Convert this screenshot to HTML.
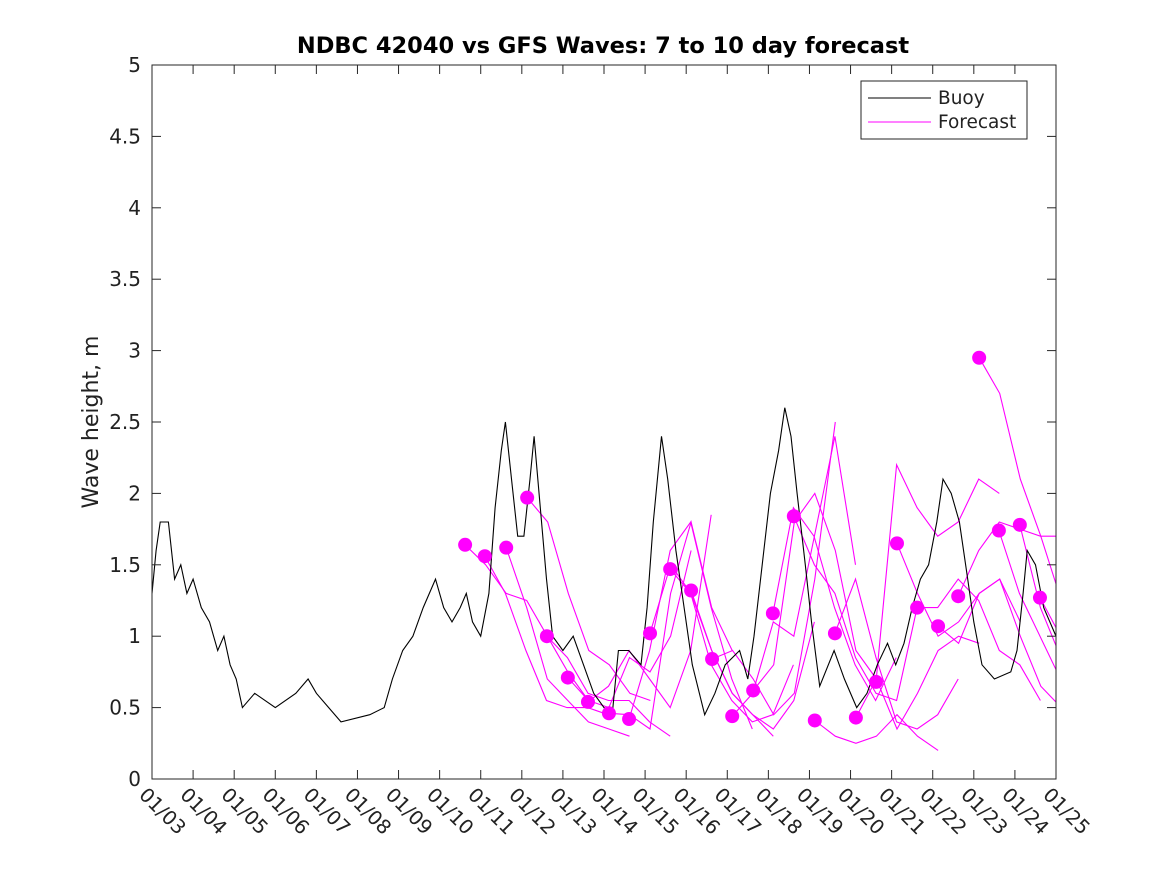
<!DOCTYPE html>
<html><head><meta charset="utf-8"><style>
body{margin:0;background:#fff;}
svg{display:block;font-family:"DejaVu Sans","Liberation Sans",sans-serif;}
</style></head><body>
<svg id="chart" width="1167" height="875" viewBox="0 0 1167 875">
<rect width="1167" height="875" fill="#fff"/>
<text x="603" y="53" text-anchor="middle" font-size="22.5" font-weight="bold" fill="#000">NDBC 42040 vs GFS Waves: 7 to 10 day forecast</text>
<text transform="translate(98,422) rotate(-90)" text-anchor="middle" font-size="22" fill="#222">Wave height, m</text>
<defs><clipPath id="pc"><rect x="152" y="65" width="904" height="714"/></clipPath></defs>
<g id="series" clip-path="url(#pc)"></g>
<g id="dots"></g>
<rect x="152" y="65" width="904" height="714" fill="none" stroke="#262626" stroke-width="1"/>
<g id="axes"></g>
<g>
<rect x="861" y="81" width="166" height="58" fill="#fff" stroke="#262626"/>
<line x1="868" y1="98" x2="931" y2="98" stroke="#000"/>
<text x="938" y="104" font-size="18.5" fill="#222">Buoy</text>
<line x1="868" y1="122" x2="931" y2="122" stroke="#f0f"/>
<text x="938" y="128" font-size="18.5" fill="#222">Forecast</text>
</g>
</svg>
<script>
const xLabels=["01/03","01/04","01/05","01/06","01/07","01/08","01/09","01/10","01/11","01/12","01/13","01/14","01/15","01/16","01/17","01/18","01/19","01/20","01/21","01/22","01/23","01/24","01/25"];
const yTicks=[0,0.5,1,1.5,2,2.5,3,3.5,4,4.5,5];
const yTickLabels=["0","0.5","1","1.5","2","2.5","3","3.5","4","4.5","5"];
const buoyDays=[0,0.1,0.2,0.4,0.55,0.7,0.85,1,1.2,1.4,1.6,1.75,1.9,2.05,2.2,2.5,3,3.5,3.8,4,4.3,4.6,5.3,5.65,5.85,6.1,6.35,6.6,6.9,7.1,7.3,7.5,7.65,7.8,8.0,8.2,8.35,8.5,8.6,8.75,8.9,9.05,9.2,9.3,9.45,9.6,9.75,10,10.25,10.5,10.75,11,11.2,11.35,11.6,11.9,12.05,12.2,12.4,12.55,12.75,12.95,13.15,13.45,13.7,13.95,14.3,14.5,14.65,14.85,15.05,15.25,15.4,15.55,15.7,15.9,16.05,16.25,16.6,16.85,17.15,17.4,17.65,17.9,18.1,18.3,18.5,18.7,18.9,19.1,19.25,19.45,19.65,19.85,20.0,20.2,20.5,20.9,21.05,21.2,21.3,21.5,21.7,22];
const buoyVals=[1.3,1.6,1.8,1.8,1.4,1.5,1.3,1.4,1.2,1.1,0.9,1.0,0.8,0.7,0.5,0.6,0.5,0.6,0.7,0.6,0.5,0.4,0.45,0.5,0.7,0.9,1.0,1.2,1.4,1.2,1.1,1.2,1.3,1.1,1.0,1.3,1.9,2.3,2.5,2.1,1.7,1.7,2.1,2.4,1.9,1.4,1.0,0.9,1.0,0.8,0.6,0.5,0.45,0.9,0.9,0.8,1.2,1.8,2.4,2.1,1.6,1.2,0.8,0.45,0.6,0.8,0.9,0.7,1.0,1.5,2.0,2.3,2.6,2.4,2.0,1.5,1.1,0.65,0.9,0.7,0.5,0.6,0.8,0.95,0.8,0.95,1.2,1.4,1.5,1.8,2.1,2.0,1.8,1.4,1.1,0.8,0.7,0.75,0.9,1.3,1.6,1.5,1.2,1.0];
const fcStartDays=[7.62,8.10,8.62,9.13,9.61,10.12,10.61,11.12,11.61,12.12,12.61,13.12,13.63,14.12,14.63,15.11,15.62,16.13,16.62,17.13,17.62,18.13,18.62,19.13,19.62,20.13,20.61,21.12,21.61];
const fc0=[1.64,1.5,1.3,1.25,1.0,0.75,0.55];
const fc1=[1.56,1.3,0.9,0.55,0.5,0.5,0.45];
const fc2=[1.62,1.2,0.7,0.55,0.4,0.35,0.3];
const fc3=[1.97,1.8,1.3,0.9,0.8,0.6,0.55];
const fc4=[1.0,0.85,0.6,0.55,0.55,0.4,0.3];
const fc5=[0.71,0.55,0.5,0.85,0.75,1.0,1.6];
const fc6=[0.54,0.65,0.9,0.7,0.5,0.9,1.85];
const fc7=[0.46,0.45,0.35,1.3,1.8,1.2,0.9];
const fc8=[0.42,0.9,1.6,1.8,1.2,0.7,0.35];
const fc9=[1.02,1.5,1.3,0.9,0.6,0.45,0.3];
const fc10=[1.47,1.3,0.8,0.55,0.4,0.45,0.8];
const fc11=[1.32,0.9,0.6,0.45,0.35,0.55,1.1];
const fc12=[0.84,0.9,0.7,0.45,0.6,1.4,2.5];
const fc13=[0.44,0.6,1.1,1.0,1.7,2.4,1.5];
const fc14=[0.62,0.8,1.8,2.0,1.6,0.9,0.7];
const fc15=[1.16,1.9,1.7,1.2,0.8,0.55,0.85];
const fc16=[1.84,1.5,1.3,0.85,0.6,0.55,1.2];
const fc17=[0.41,0.3,0.25,0.3,0.45,0.3,0.2];
const fc18=[1.02,1.4,0.85,0.4,0.35,0.45,0.7];
const fc19=[0.43,0.7,0.35,0.6,0.9,1.0,0.95];
const fc20=[0.68,2.2,1.9,1.7,1.8,2.1,2.0];
const fc21=[1.65,1.3,1.0,1.1,1.3,1.4,1.1];
const fc22=[1.2,1.2,1.4,1.25,0.9,0.8,0.55];
const fc23=[1.07,0.95,1.3,1.4,1.0,0.65,0.5];
const fc24=[1.28,1.6,1.8,1.75,1.7,1.7,1.7];
const fc25=[2.95,2.7,2.1,1.7,1.25,1.0,0.95];
const fc26=[1.74,1.3,1.0,0.7,0.5];
const fc27=[1.78,1.2,0.85];
const fc28=[1.27,1.0];
const fcSeries=[fc0,fc1,fc2,fc3,fc4,fc5,fc6,fc7,fc8,fc9,fc10,fc11,fc12,fc13,fc14,fc15,fc16,fc17,fc18,fc19,fc20,fc21,fc22,fc23,fc24,fc25,fc26,fc27,fc28];

const NS="http://www.w3.org/2000/svg";
const X0=152,X1=1056,Y0=779,Y1=65;
function xs(d){return X0+(X1-X0)*d/22;}
function ys(v){return Y0-(Y0-Y1)*v/5;}
function mk(tag,attrs,parent){const e=document.createElementNS(NS,tag);for(const k in attrs)e.setAttribute(k,attrs[k]);parent.appendChild(e);return e;}
const axes=document.getElementById('axes');
xLabels.forEach((lab,i)=>{
  const x=xs(i);
  const t1=mk('line',{x1:x,y1:Y0,x2:x,y2:Y0-9,stroke:'#262626'},axes);
  
  
  const t2=mk('line',{x1:x,y1:Y1,x2:x,y2:Y1+9,stroke:'#262626'},axes);
  
  
  const tx=mk('text',{transform:`translate(${x-14},${Y0+17}) rotate(45)`,'font-size':19.5,fill:'#222'},axes);
  tx.textContent=lab;
  
  
});
yTicks.forEach((v,i)=>{
  const y=ys(v);
  const t1=mk('line',{x1:X0,y1:y,x2:X0+9,y2:y,stroke:'#262626'},axes);
  
  
  const t2=mk('line',{x1:X1,y1:y,x2:X1-9,y2:y,stroke:'#262626'},axes);
  
  
  const tx=mk('text',{x:X0-11,y:y+7,'text-anchor':'end','font-size':20,fill:'#222'},axes);
  tx.textContent=yTickLabels[i];
  
  
});
const series=document.getElementById('series');
fcSeries.forEach((arr,k)=>{
  const pts=arr.map((v,j)=>xs(fcStartDays[k]+j*0.5).toFixed(1)+','+ys(v).toFixed(1)).join(' ');
  const pl=mk('polyline',{points:pts,fill:'none',stroke:'#f0f','stroke-width':1.1},series);
  
  
});
const bpts=buoyDays.map((dd,i)=>xs(dd).toFixed(1)+','+ys(buoyVals[i]).toFixed(1)).join(' ');
const bl=mk('polyline',{points:bpts,fill:'none',stroke:'#000','stroke-width':1.1},series);


const dots=document.getElementById('dots');
fcStartDays.forEach((dd,k)=>{
  const c=mk('circle',{cx:xs(dd),cy:ys(fcSeries[k][0]),r:7,fill:'#f0f'},dots);
  
  
});
</script>
</body></html>
